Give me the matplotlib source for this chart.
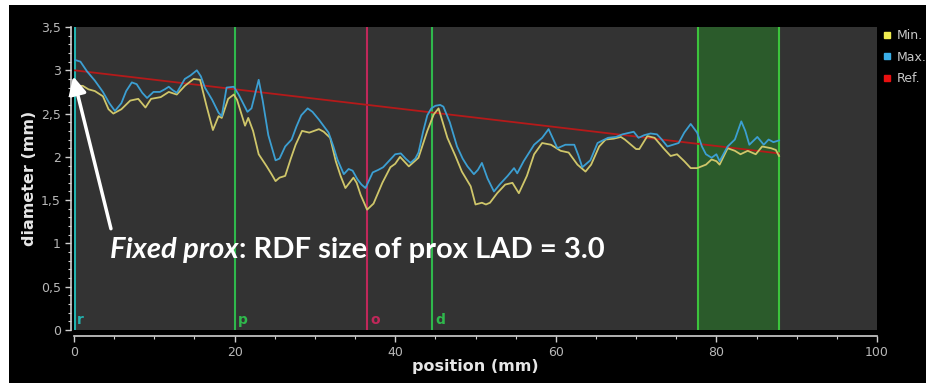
import numpy as np
import matplotlib
matplotlib.use("Agg")
import matplotlib.pyplot as plt
from matplotlib.patches import Rectangle
from matplotlib.lines import Line2D
from matplotlib.ticker import MultipleLocator, FuncFormatter

# diameter profile along the vessel (mm)
max_pos = [0.1, 0.8, 1.6, 2.6, 3.6, 4.4, 5.1, 5.9, 6.5, 7.2, 7.8, 8.5, 9.1, 9.9, 10.7, 11.3,
           11.8, 12.3, 12.8, 13.3, 13.8, 14.5, 15.3, 15.8, 16.3, 17.2, 18.0, 18.4, 19.0, 19.9,
           20.5, 21.6, 22.1, 23.0, 23.5, 24.2, 25.1, 25.6, 26.3, 27.1, 27.7, 28.3, 29.1, 29.7,
           30.5, 31.7, 32.3, 32.8, 33.6, 34.2, 34.7, 35.3, 35.8, 36.3, 36.7, 37.2, 37.9, 38.5,
           39.2, 40.0, 40.7, 41.3, 41.9, 42.5, 42.9, 43.5, 44.0, 44.5, 45.0, 45.6, 46.0, 46.8,
           47.7, 48.4, 49.0, 49.8, 50.3, 50.8, 51.5, 52.3, 53.0, 54.0, 54.8, 55.2, 56.0, 57.3,
           58.3, 59.1, 59.6, 60.2, 61.2, 62.3, 62.8, 63.3, 64.3, 65.2, 66.5, 67.5, 68.3, 69.7,
           70.3, 71.0, 71.8, 72.6, 73.2, 73.9, 74.6, 75.3, 76.0, 76.8, 77.6, 78.2, 78.7, 79.4,
           80.0, 80.4, 81.4, 82.3, 83.1, 83.6, 84.1, 85.1, 85.9, 86.5, 87.1, 87.8]
max_diam = [3.12, 3.10, 2.99, 2.88, 2.75, 2.62, 2.53, 2.62, 2.76, 2.86, 2.84, 2.74, 2.68, 2.75,
            2.75, 2.78, 2.81, 2.77, 2.74, 2.82, 2.90, 2.94, 3.00, 2.93, 2.80, 2.66, 2.51, 2.47,
            2.80, 2.81, 2.72, 2.52, 2.56, 2.89, 2.65, 2.25, 1.96, 1.98, 2.12, 2.20, 2.35, 2.48,
            2.56, 2.52, 2.43, 2.28, 2.12, 1.97, 1.80, 1.86, 1.84, 1.74, 1.68, 1.64, 1.72, 1.82,
            1.85, 1.88, 1.95, 2.03, 2.04, 1.98, 1.93, 1.98, 2.05, 2.30, 2.48, 2.56, 2.59, 2.60,
            2.58, 2.40, 2.12, 1.98, 1.89, 1.80, 1.85, 1.93, 1.75, 1.60, 1.68, 1.78, 1.87, 1.81,
            1.95, 2.14, 2.22, 2.32, 2.22, 2.10, 2.14, 2.14, 2.02, 1.88, 1.96, 2.16, 2.22, 2.23,
            2.26, 2.29, 2.22, 2.25, 2.27, 2.26, 2.20, 2.12, 2.14, 2.16, 2.28, 2.38, 2.28, 2.12,
            2.03, 1.99, 2.03, 1.95, 2.12, 2.20, 2.41, 2.30, 2.14, 2.23, 2.14, 2.20, 2.17, 2.19]

min_pos = [0.1, 1.1, 1.8, 2.6, 3.6, 4.3, 4.9, 5.9, 7.0, 8.0, 8.9, 9.6, 10.8, 11.8, 12.8, 13.8,
           14.9, 15.7, 16.5, 17.3, 18.0, 18.4, 19.2, 19.9, 20.3, 21.3, 21.7, 22.3, 23.0, 24.0,
           24.6, 25.1, 25.6, 26.3, 27.0, 27.6, 28.4, 29.3, 30.5, 31.1, 31.9, 32.6, 33.2, 33.8,
           34.8, 35.2, 35.7, 36.5, 37.3, 38.4, 39.4, 40.0, 40.6, 41.7, 42.9, 44.0, 44.8, 45.4,
           46.5, 47.5, 48.3, 49.4, 50.0, 50.8, 51.3, 51.8, 52.7, 53.7, 54.6, 55.4, 56.4, 57.3,
           58.3, 59.4, 60.6, 61.6, 62.7, 63.7, 64.4, 65.4, 66.2, 67.2, 68.1, 68.6, 70.0, 70.4,
           71.4, 72.3, 73.5, 74.3, 75.1, 76.0, 76.8, 77.6, 78.7, 79.4, 80.0, 80.4, 81.4, 82.3,
           83.0, 83.9, 84.9, 85.7, 86.8, 87.4, 87.8]
min_diam = [2.82, 2.82, 2.78, 2.76, 2.70, 2.55, 2.50, 2.55, 2.65, 2.67, 2.57, 2.67, 2.69, 2.75,
            2.72, 2.82, 2.90, 2.89, 2.59, 2.31, 2.47, 2.45, 2.67, 2.72, 2.66, 2.36, 2.45, 2.30,
            2.03, 1.89, 1.80, 1.72, 1.76, 1.78, 1.98, 2.14, 2.30, 2.28, 2.32, 2.29, 2.22, 1.95,
            1.78, 1.64, 1.76, 1.70, 1.56, 1.39, 1.46, 1.70, 1.88, 1.92, 2.00, 1.89, 1.99, 2.30,
            2.49, 2.56, 2.22, 2.01, 1.83, 1.66, 1.45, 1.47, 1.45, 1.47, 1.58, 1.68, 1.70, 1.58,
            1.78, 2.03, 2.16, 2.14, 2.07, 2.05, 1.91, 1.83, 1.91, 2.12, 2.20, 2.21, 2.23, 2.20,
            2.09, 2.09, 2.24, 2.22, 2.09, 2.01, 2.03, 1.95, 1.87, 1.87, 1.91, 1.97, 1.95, 1.91,
            2.10, 2.07, 2.03, 2.07, 2.03, 2.12, 2.10, 2.08, 2.01]

ref_pos = [0.0, 87.8]
ref_diam = [3.0, 2.04]

# markers: reference, proximal, obstruction, distal
marker_names = ["r", "p", "o", "d"]
marker_pos = [0.0, 20.0, 36.5, 44.6]
marker_colors = ["#22b3b0", "#2fb84c", "#c0285a", "#2fb84c"]

region_start, region_end = 77.7, 87.8

C_MIN = "#cfc66a"
C_MAX = "#3c9fd2"
C_REF = "#b51a1a"
TICK_C = "#b8b8b8"

fig = plt.figure(figsize=(9.26, 3.83), dpi=100, facecolor="black")
# white frame on the top and left edge
fig.patches.append(Rectangle((0, 1 - 5 / 383), 1, 5 / 383, transform=fig.transFigure,
                             facecolor="white", edgecolor="none", zorder=-1))
fig.patches.append(Rectangle((0, 0), 9 / 926, 1, transform=fig.transFigure,
                             facecolor="white", edgecolor="none", zorder=-1))

ax = fig.add_axes([74 / 926, 53 / 383, 803 / 926, 303 / 383])
ax.set_facecolor("#333333")
ax.set_xlim(0, 100)
ax.set_ylim(0, 3.5)

# shaded segment
ax.axvspan(region_start, region_end, facecolor="#2b5b2b", edgecolor="none", zorder=1)
for xv in (region_start, region_end):
    ax.axvline(xv, color="#3cc43c", lw=1.5, zorder=2)

for name, xv, col in zip(marker_names, marker_pos, marker_colors):
    ax.axvline(xv, color=col, lw=1.5 if name != "r" else 2.2, zorder=2)
    ax.text(xv + 0.4, 0.03, name, color=col, fontsize=10, ha="left", va="bottom",
            fontweight="bold", zorder=3)

ax.plot(ref_pos, ref_diam, color=C_REF, lw=1.3, zorder=4)
ax.plot(min_pos, min_diam, color=C_MIN, lw=1.3, zorder=5)
ax.plot(max_pos, max_diam, color=C_MAX, lw=1.3, zorder=6)

# axes styling
for side in ("top", "right"):
    ax.spines[side].set_visible(False)
ax.spines["left"].set_position(("outward", 2))
ax.spines["bottom"].set_position(("outward", 4))
for side in ("left", "bottom"):
    ax.spines[side].set_color("#d0d0d0")
    ax.spines[side].set_linewidth(1.2)

ax.xaxis.set_major_locator(MultipleLocator(20))
ax.xaxis.set_minor_locator(MultipleLocator(5))
ax.yaxis.set_major_locator(MultipleLocator(0.5))
ax.yaxis.set_minor_locator(MultipleLocator(0.1))
ax.yaxis.set_major_formatter(FuncFormatter(lambda v, _: f"{v:g}".replace(".", ",")))
ax.tick_params(axis="both", which="major", colors="#d0d0d0", labelcolor=TICK_C,
               labelsize=9, length=4, width=1)
ax.tick_params(axis="both", which="minor", colors="#d0d0d0", length=2, width=0.8)

ax.set_xlabel("position (mm)", color="#e6e6e6", fontsize=11.5, fontweight="bold", labelpad=0)
ax.set_ylabel("diameter (mm)", color="#e6e6e6", fontsize=11.5, fontweight="bold", labelpad=3)

# legend outside on the right
handles = [Line2D([], [], ls="none", marker="s", markersize=5, color=c, markeredgecolor=c)
           for c in ("#f0ec50", "#3aaee8", "#e81010")]
fig.legend(handles, ["Min.", "Max.", "Ref."], loc="upper left",
           bbox_to_anchor=(877 / 926, 1 - 24 / 383), frameon=False, fontsize=9,
           labelcolor="#c8c8c8", handlelength=0.8, handletextpad=0.4, labelspacing=0.7,
           borderaxespad=0)

# annotation
ax.annotate("", xy=(-0.1, 2.93), xytext=(4.6, 1.17),
            arrowprops=dict(arrowstyle="-|>", color="white", lw=2.5, mutation_scale=26,
                            shrinkA=0, shrinkB=0),
            annotation_clip=False, zorder=8)
t1 = ax.text(4.5, 0.83, "Fixed prox", color="white", fontsize=21, fontstyle="italic",
             fontweight="bold", family="Lato", ha="left", va="baseline", zorder=8)
fig.canvas.draw()
bb = t1.get_window_extent()
x_end = ax.transData.inverted().transform((bb.x1, bb.y0))[0]
ax.text(x_end, 0.83, ": RDF size of prox LAD = 3.0", color="white", fontsize=21,
        fontweight="bold", family="Lato", ha="left", va="baseline", zorder=8)

fig.savefig("out.png", dpi=100, facecolor="black")
